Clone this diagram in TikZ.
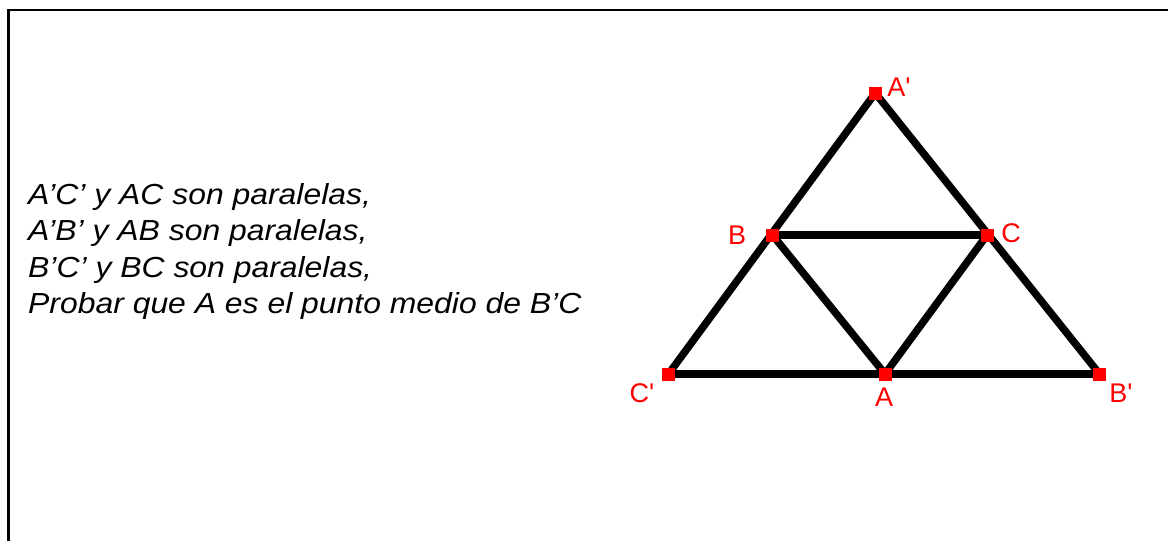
\documentclass[tikz,border=0pt]{standalone}
\usepackage{fontspec}
\setmainfont{Liberation Sans}
\newfontfamily\stmtfont[FakeStretch=1.1]{Liberation Sans}
\begin{document}
\begin{tikzpicture}[x=1pt,y=-1pt,
  seg/.style={line width=7.5pt,black},
  ptbox/.style={rectangle,fill=red,minimum size=13pt,inner sep=0pt},
  lbl/.style={text=red,inner sep=0pt,font=\fontsize{27}{30}\selectfont},
  stmt/.style={anchor=base west,inner sep=0pt,font=\stmtfont\fontsize{29}{34}\selectfont\itshape}]
\useasboundingbox (0,0) rectangle (1168,541);
\draw[line width=2.2pt] (8.5,541) -- (8.5,10) -- (1168,10);
% statement
\node[stmt] (l1) at (28,204) {A’C’ y AC son paralelas,};
\node[stmt] (l2) at (28,240.7) {A’B’ y AB son paralelas,};
\node[stmt] (l3) at (28,277) {B’C’ y BC son paralelas,};
\node[stmt] (l4) at (28,313) {Probar que A es el punto medio de B’C};
% points
\coordinate (Ap) at (875.3,93);
\coordinate (B) at (772.5,235);
\coordinate (C) at (987,235);
\coordinate (Cp) at (668.5,374);
\coordinate (A) at (885,374);
\coordinate (Bp) at (1099.5,374);
\draw[seg] (Ap) -- (Cp);
\draw[seg] (Ap) -- (Bp);
\draw[seg] (B) -- (C);
\draw[seg] (B) -- (A);
\draw[seg] (C) -- (A);
\draw[seg] (Cp) -- (Bp);
\node[ptbox] (nAp) at (Ap) {};
\node[ptbox] (nB) at (B) {};
\node[ptbox] (nC) at (C) {};
\node[ptbox] (nCp) at (Cp) {};
\node[ptbox] (nA) at (A) {};
\node[ptbox] (nBp) at (Bp) {};
% labels
\node[lbl] (tAp) at (899,87) {A\textquotesingle};
\node[lbl] (tB) at (737,235) {B};
\node[lbl] (tC) at (1011,233) {C};
\node[lbl] (tCp) at (642,393) {C\textquotesingle};
\node[lbl] (tA) at (884,397) {A};
\node[lbl] (tBp) at (1121,393) {B\textquotesingle};
\end{tikzpicture}
\end{document}
